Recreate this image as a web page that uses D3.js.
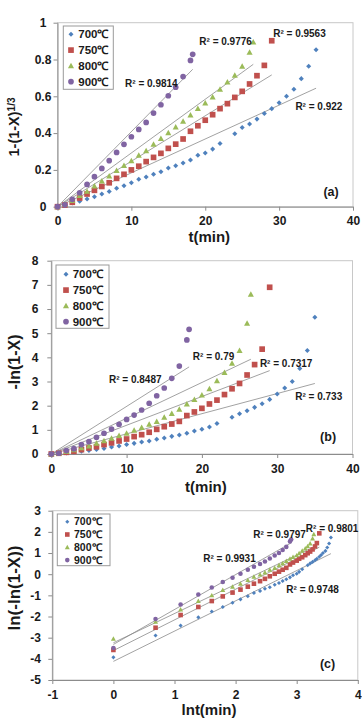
<!DOCTYPE html>
<html><head><meta charset="utf-8">
<script src="https://cdn.jsdelivr.net/npm/d3@7/dist/d3.min.js"></script>
<style>
html,body{margin:0;padding:0;background:#fff;}
svg{display:block;font-family:"Liberation Sans",Arial,sans-serif;}
</style></head>
<body>
<svg id="chart" width="362" height="723"></svg>
<script>
// ---------------- DATA ----------------
const seriesNames = ["700℃", "750℃", "800℃", "900℃"];
const seriesColors = ["#4F81BD", "#C0504D", "#9BBB59", "#8064A2"];
const seriesShapes = ["diamond", "square", "triangle", "circle"];

// time (min)
const t700 = [0,1,2,3,4,5,6,7,8,9,10,11,12,13,14,15,16,17,18,19,20,21,22,24,25,26,27,28,29,30,31,32,33,34,35];
const t750 = [0,1,2,3,4,5,6,7,8,9,10,11,12,13,14,15,16,17,18,19,20,21,22,23,24,25,26,27,28,29];
const t800 = [0,1,2,3,4,5,6,7,8,9,10,11,12,13,14,15,16,17,18,19,20,21,22,23,24,25,26,26.5];
const t900 = [0,1,2,3,4,5,6,7,8,9,10,11,12,13,14,15,16,17,18,18.3];

// (a) 1-(1-X)^(1/3)
const a700 = [0,0.01,0.02,0.03,0.042,0.054,0.069,0.083,0.1,0.114,0.13,0.149,0.161,0.176,0.19,0.21,0.223,0.237,0.254,0.28,0.292,0.313,0.344,0.397,0.43,0.45,0.476,0.507,0.533,0.565,0.60,0.638,0.696,0.763,0.853];
const a750 = [0,0.009,0.024,0.047,0.069,0.089,0.11,0.13,0.154,0.176,0.2,0.22,0.245,0.268,0.29,0.317,0.34,0.368,0.41,0.44,0.47,0.50,0.533,0.56,0.594,0.627,0.667,0.712,0.768,0.902];
const a800 = [0,0.013,0.033,0.06,0.083,0.112,0.139,0.167,0.196,0.223,0.25,0.279,0.304,0.339,0.37,0.402,0.433,0.464,0.498,0.533,0.563,0.596,0.638,0.678,0.714,0.763,0.839,0.895];
const a900 = [0,0.01,0.04,0.076,0.121,0.163,0.208,0.25,0.295,0.339,0.38,0.42,0.458,0.509,0.554,0.603,0.649,0.707,0.795,0.828];

// (b) -ln(1-X)
const b700 = [0,0.02,0.04,0.07,0.11,0.15,0.19,0.23,0.29,0.33,0.39,0.44,0.50,0.54,0.61,0.66,0.73,0.79,0.86,0.95,1.02,1.12,1.26,1.52,1.67,1.79,1.93,2.08,2.26,2.48,2.73,3.0,3.54,4.28,5.66];
const b750 = [0,0.03,0.07,0.11,0.18,0.25,0.30,0.39,0.46,0.54,0.62,0.72,0.80,0.90,1.02,1.13,1.24,1.35,1.59,1.74,1.89,2.07,2.23,2.46,2.70,2.92,3.27,3.70,4.34,6.9];
const b800 = [0,0.04,0.10,0.17,0.26,0.33,0.44,0.55,0.65,0.76,0.86,0.98,1.09,1.23,1.34,1.52,1.67,1.85,2.07,2.25,2.44,2.70,3.03,3.37,3.75,4.28,5.41,6.61];
const b900 = [0,0.03,0.14,0.22,0.39,0.51,0.69,0.86,1.03,1.23,1.43,1.61,1.82,2.10,2.41,2.73,3.13,3.64,4.72,5.16];

// (c) ln t  vs  ln(-ln(1-X))
const lnt700 = [0,0.69,1.10,1.39,1.61,1.79,1.95,2.08,2.20,2.30,2.40,2.48,2.56,2.64,2.71,2.77,2.83,2.89,2.94,3.00,3.04,3.09,3.18,3.22,3.26,3.30,3.33,3.37,3.40,3.43,3.47,3.50,3.53,3.56];
const lnt750 = [0,0.69,1.10,1.39,1.61,1.79,1.95,2.08,2.20,2.30,2.40,2.48,2.56,2.64,2.71,2.77,2.83,2.89,2.94,3.00,3.04,3.09,3.14,3.18,3.22,3.26,3.30,3.33,3.37];
const lnt800 = [0,0.69,1.10,1.39,1.61,1.79,1.95,2.08,2.20,2.30,2.40,2.48,2.56,2.64,2.71,2.77,2.83,2.89,2.94,3.00,3.04,3.09,3.14,3.18,3.22,3.26,3.28];
const lnt900 = [0,0.69,1.10,1.39,1.61,1.79,1.95,2.08,2.20,2.30,2.40,2.48,2.56,2.64,2.71,2.77,2.83,2.89,2.91];
const c700 = [-3.93,-2.90,-2.43,-2.04,-1.76,-1.55,-1.35,-1.19,-1.04,-0.89,-0.79,-0.69,-0.62,-0.50,-0.42,-0.32,-0.24,-0.15,-0.05,0.02,0.11,0.23,0.42,0.51,0.58,0.66,0.73,0.82,0.91,1.0,1.10,1.26,1.45,1.73];
const c750 = [-3.58,-2.53,-1.93,-1.55,-1.27,-1.05,-0.87,-0.73,-0.59,-0.45,-0.33,-0.22,-0.10,0.02,0.12,0.21,0.30,0.46,0.55,0.64,0.73,0.80,0.90,0.99,1.07,1.17,1.31,1.47,1.93];
const c800 = [-3.05,-2.25,-1.67,-1.27,-1.0,-0.75,-0.59,-0.45,-0.28,-0.12,-0.02,0.08,0.21,0.29,0.42,0.51,0.62,0.73,0.81,0.89,0.99,1.11,1.21,1.32,1.45,1.69,1.89];
const c900 = [-3.49,-2.12,-1.43,-0.96,-0.63,-0.37,-0.17,0.02,0.21,0.35,0.48,0.60,0.74,0.88,1.0,1.14,1.29,1.55,1.64];

// linear trendlines (intercept, slope) per series 700,750,800,900
const fitAIntercept = [0, 0, 0, 0];
const fitASlope = [0.0184, 0.0247, 0.0292, 0.0408];
const fitBIntercept = [0, 0, 0, 0];
const fitBSlope = [0.0834, 0.119, 0.148, 0.197];
const fitCIntercept = [-4.12, -3.61, -3.24, -3.32];
const fitCSlope = [1.43, 1.45, 1.38, 1.65];

// R² labels
const r2A = ["R² = 0.922", "R² = 0.9563", "R² = 0.9776", "R² = 0.9814"];
const r2B = ["R² = 0.733", "R² = 0.7317", "R² = 0.79", "R² = 0.8487"];
const r2C = ["R² = 0.9748", "R² = 0.9801", "R² = 0.9797", "R² = 0.9931"];

// tick values
const ticksXA = [0,10,20,30,40];
const ticksYA = [0,0.2,0.4,0.6,0.8,1];
const ticksXB = [0,10,20,30,40];
const ticksYB = [0,1,2,3,4,5,6,7,8];
const ticksXC = [-1,0,1,2,3,4];
const ticksYC = [-5,-4,-3,-2,-1,0,1,2,3];

// ---------------- LAYOUT ----------------
const svg = d3.select("#chart");

const panels = [
  {
    id: "a",
    box: {l: 57.5, r: 353, t: 22.7, b: 206.7},
    xDom: [0, 40], yDom: [0, 1],
    xTicks: ticksXA, yTicks: ticksYA, yFmt: d => d3.format("")(d),
    yLabAnchor: "middle", yLabX: 43,
    xs: [t700, t750, t800, t900], ys: [a700, a750, a800, a900],
    fitI: fitAIntercept, fitS: fitASlope, fitX0: 0,
    r2: r2A,
    r2Pos: [[32.2, 0.547], [29.2, 0.942], [19.2, 0.897], [9.15, 0.667]],
    tag: "(a)", tagPos: [36.0, 0.085],
    xTitle: "t(min)", xTitleY: 242,
    yTitleX: 14, yTitleY: 127, yTitleSize: 14.5,
    legend: {x: 63.3, y: 26, w: 50, h: 63.3, rowY0: 34.3, step: 15.8, mx: 71, tx: 78.3, fs: 11.5},
    ms: 1.05
  },
  {
    id: "b",
    box: {l: 51.3, r: 352.5, t: 260.7, b: 454},
    xDom: [0, 40], yDom: [0, 8],
    xTicks: ticksXB, yTicks: ticksYB, yFmt: d => d,
    yLabAnchor: "middle", yLabX: 35,
    xs: [t700, t750, t800, t900], ys: [b700, b750, b800, b900],
    fitI: fitBIntercept, fitS: fitBSlope, fitX0: 0,
    r2: r2B,
    r2Pos: [[32.4, 2.37], [27.7, 3.75], [18.8, 4.03], [7.66, 3.09]],
    tag: "(b)", tagPos: [35.7, 0.72],
    xTitle: "t(min)", xTitleY: 492,
    yTitleX: 14, yTitleY: 362, yTitleSize: 16,
    legend: {x: 56, y: 265, w: 53, h: 63.3, rowY0: 274.3, step: 15.8, mx: 66, tx: 72.7, fs: 11.5},
    ms: 1.05
  },
  {
    id: "c",
    box: {l: 52.3, r: 357.8, t: 510.7, b: 680},
    xDom: [-1, 4], yDom: [-5, 3],
    xTicks: ticksXC, yTicks: ticksYC, yFmt: d => d,
    yLabAnchor: "end", yLabX: 41,
    xs: [lnt700, lnt750, lnt800, lnt900], ys: [c700, c750, c800, c900],
    fitI: fitCIntercept, fitS: fitCSlope, fitX0: 0,
    r2: r2C,
    r2Pos: [[2.83, -0.71], [3.15, 2.14], [2.29, 1.89], [1.47, 0.72]],
    tag: "(c)", tagPos: [3.38, -4.2],
    xTitle: "lnt(min)", xTitleY: 715,
    yTitleX: 14, yTitleY: 588, yTitleSize: 17,
    legend: {x: 57.3, y: 514, w: 52.7, h: 51.7, rowY0: 521.7, step: 12.8, mx: 67.3, tx: 74, fs: 10.5},
    ms: 0.85
  }
];

const borderColor = "#c8c8c8";
const axisColor = "#8c8c8c";
const textColor = "#1a1a1a";

function drawMarker(g, shape, color, x, y, k) {
  if (shape === "diamond") {
    const s = 2.4 * k;
    g.append("path").attr("d", `M${x},${y - s}L${x + s},${y}L${x},${y + s}L${x - s},${y}Z`).attr("fill", color);
  } else if (shape === "square") {
    const s = 2.7 * k;
    g.append("rect").attr("x", x - s).attr("y", y - s).attr("width", 2 * s).attr("height", 2 * s).attr("fill", color);
  } else if (shape === "triangle") {
    const s = 2.9 * k;
    g.append("path").attr("d", `M${x},${y - s}L${x + s},${y + s * 0.8}L${x - s},${y + s * 0.8}Z`).attr("fill", color);
  } else {
    g.append("circle").attr("cx", x).attr("cy", y).attr("r", 2.7 * k).attr("fill", color);
  }
}

panels.forEach(p => {
  const g = svg.append("g").attr("class", "panel-" + p.id);
  const x = d3.scaleLinear().domain(p.xDom).range([p.box.l, p.box.r]);
  const y = d3.scaleLinear().domain(p.yDom).range([p.box.b, p.box.t]);

  // plot border
  g.append("rect").attr("x", p.box.l).attr("y", p.box.t)
    .attr("width", p.box.r - p.box.l).attr("height", p.box.b - p.box.t)
    .attr("fill", "none").attr("stroke", borderColor).attr("stroke-width", 1);

  // axes
  const xAxis = d3.axisBottom(x).tickValues(p.xTicks).tickSize(4).tickSizeOuter(0).tickFormat(d => d);
  const yAxis = d3.axisLeft(y).tickValues(p.yTicks).tickSize(4).tickSizeOuter(0).tickFormat(p.yFmt);
  const gx = g.append("g").attr("transform", `translate(0,${p.box.b})`).call(xAxis);
  const gy = g.append("g").attr("transform", `translate(${p.box.l},0)`).call(yAxis);
  [gx, gy].forEach(ax => {
    ax.select(".domain").attr("stroke", axisColor);
    ax.selectAll(".tick line").attr("stroke", axisColor);
    ax.selectAll("text").attr("fill", textColor).style("font-size", "12px").style("font-weight", "bold");
  });
  gx.selectAll("text").attr("y", 10);
  gy.selectAll("text").attr("x", p.yLabX - p.box.l).attr("text-anchor", p.yLabAnchor);

  // trendlines
  p.xs.forEach((xs, i) => {
    const x0 = p.fitX0, x1 = d3.max(xs);
    g.append("line")
      .attr("x1", x(x0)).attr("y1", y(p.fitI[i] + p.fitS[i] * x0))
      .attr("x2", x(x1)).attr("y2", y(p.fitI[i] + p.fitS[i] * x1))
      .attr("stroke", "#8a8a8a").attr("stroke-width", 0.8);
  });

  // points
  p.xs.forEach((xs, i) => {
    const sg = g.append("g").attr("class", "series");
    xs.forEach((xv, j) => drawMarker(sg, seriesShapes[i], seriesColors[i], x(xv), y(p.ys[i][j]), p.ms));
  });

  // R² labels
  p.r2.forEach((txt, i) => {
    g.append("text").attr("x", x(p.r2Pos[i][0])).attr("y", y(p.r2Pos[i][1]) + 3.5)
      .attr("fill", textColor).style("font-size", "10px").style("font-weight", "bold").text(txt);
  });
  g.append("text").attr("x", x(p.tagPos[0])).attr("y", y(p.tagPos[1]) + 4.5)
    .attr("fill", textColor).style("font-size", "12.5px").style("font-weight", "bold").text(p.tag);

  // axis titles
  g.append("text").attr("x", (p.box.l + p.box.r) / 2 + 4).attr("y", p.xTitleY)
    .attr("text-anchor", "middle").attr("fill", textColor)
    .style("font-size", "15px").style("font-weight", "bold").text(p.xTitle);

  const yt = g.append("text").attr("transform", `translate(${p.yTitleX},${p.yTitleY}) rotate(-90)`)
    .attr("text-anchor", "middle").attr("dy", "0.35em").attr("fill", textColor)
    .style("font-size", p.yTitleSize + "px").style("font-weight", "bold");
  if (p.id === "a") {
    yt.append("tspan").text("1-(1-X)");
    yt.append("tspan").attr("dy", "-0.45em").style("font-size", "10px").text("1/3");
  } else if (p.id === "b") {
    yt.text("-ln(1-X)");
  } else {
    yt.text("ln(-ln(1-X))");
  }

  // legend
  const L = p.legend;
  g.append("rect").attr("x", L.x).attr("y", L.y).attr("width", L.w).attr("height", L.h)
    .attr("fill", "#fff").attr("stroke", "#9a9a9a").attr("stroke-width", 1);
  seriesNames.forEach((nm, i) => {
    const ry = L.rowY0 + i * L.step;
    drawMarker(g, seriesShapes[i], seriesColors[i], L.mx, ry, p.ms);
    g.append("text").attr("x", L.tx).attr("y", ry).attr("dy", "0.36em")
      .attr("fill", textColor).style("font-size", L.fs + "px").style("font-weight", "bold").text(nm);
  });
});
</script>
</body></html>
